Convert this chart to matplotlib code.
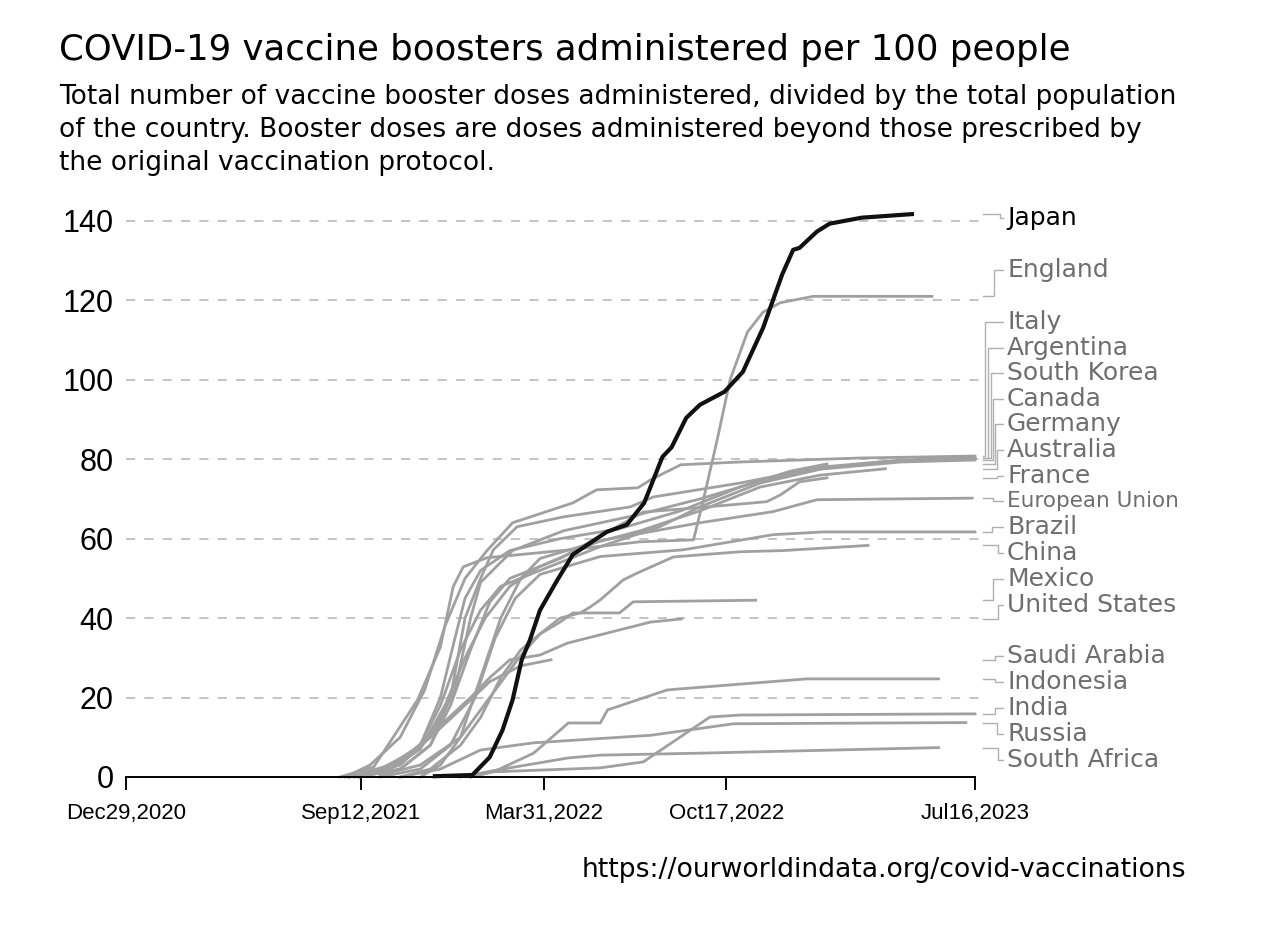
import numpy as np
import matplotlib
matplotlib.use('Agg')
import matplotlib.pyplot as plt
from matplotlib.transforms import blended_transform_factory


# ----------------------------------------------------------------
# Data
# ----------------------------------------------------------------
START = '2020-12-29'
END = '2023-07-16'

tick_dates = ['2020-12-29', '2021-09-12', '2022-03-31', '2022-10-17', '2023-07-16']
tick_labels = ['Dec29,2020', 'Sep12,2021', 'Mar31,2022', 'Oct17,2022', 'Jul16,2023']
y_ticks = [0, 20, 40, 60, 80, 100, 120, 140]

japan_dates = ['2021-12-02', '2022-01-12', '2022-01-31', '2022-02-14', '2022-02-25', '2022-03-07',
               '2022-03-16', '2022-03-27', '2022-04-15', '2022-05-02', '2022-06-08', '2022-06-30',
               '2022-07-19', '2022-08-08', '2022-08-18', '2022-09-03', '2022-09-18', '2022-10-15',
               '2022-11-04', '2022-11-26', '2022-12-17', '2022-12-29', '2023-01-05', '2023-01-24',
               '2023-02-07', '2023-03-14', '2023-05-08']
japan_vals = [0.2, 0.5, 5, 11.8, 19.4, 29.5, 34.5, 42, 49.6, 56, 61.7, 63.5, 69, 80.6, 83, 90.4,
              93.7, 97, 102, 113, 126.5, 132.7, 133.2, 137.3, 139.3, 140.8, 141.7]

england_dates = ['2021-08-20', '2021-09-26', '2021-11-13', '2021-12-08', '2021-12-22', '2022-01-02',
                 '2022-01-28', '2022-04-29', '2022-07-14', '2022-09-11', '2022-09-22', '2022-10-07',
                 '2022-10-21', '2022-11-09', '2022-11-26', '2022-12-15', '2023-01-20', '2023-05-30']
england_vals = [0, 2.5, 19.4, 32.7, 47.9, 52.9, 55.2, 57.2, 59.2, 59.7, 70, 85, 100, 112, 117,
                119.4, 121, 121]

italy_dates = ['2021-08-26', '2021-09-22', '2021-10-25', '2021-11-21', '2021-12-13', '2022-01-04',
               '2022-01-28', '2022-02-25', '2022-05-02', '2022-05-28', '2022-07-12', '2022-07-26',
               '2022-08-28', '2022-11-01', '2023-03-12', '2023-07-16']
italy_vals = [0, 3, 10, 22, 38, 50, 57, 64, 69, 72.3, 72.8, 74.8, 78.6, 79.3, 80.3, 80.8]

argentina_dates = ['2021-09-10', '2021-10-25', '2021-11-27', '2021-12-24', '2022-01-10', '2022-01-21',
                   '2022-02-25', '2022-04-22', '2022-07-12', '2022-09-18', '2022-11-23', '2023-02-07',
                   '2023-04-26', '2023-07-16']
argentina_vals = [0, 3, 10, 22, 40, 49, 57, 62, 66, 70, 74.5, 78, 79.6, 80.4]

korea_dates = ['2021-09-10', '2021-10-25', '2021-11-27', '2021-12-19', '2022-01-04', '2022-01-21',
               '2022-02-04', '2022-03-02', '2022-04-22', '2022-07-04', '2022-07-29', '2022-11-01',
               '2023-01-28', '2023-04-26', '2023-07-16']
korea_vals = [0, 2, 8, 20, 40, 50, 57.2, 63, 65.5, 68, 70.5, 74, 78, 79.8, 80.2]

canada_dates = ['2021-08-30', '2021-10-14', '2021-11-16', '2021-12-08', '2021-12-30', '2022-01-21',
                '2022-02-12', '2022-03-27', '2022-06-01', '2022-08-05', '2022-09-18', '2022-11-23',
                '2023-01-28', '2023-04-26', '2023-07-16']
canada_vals = [0, 3, 8, 18, 32, 42, 48, 52, 58, 63, 68, 74, 77.5, 79.3, 79.8]

germany_dates = ['2021-09-05', '2021-10-14', '2021-11-16', '2021-12-08', '2021-12-24', '2022-01-04',
                 '2022-01-21', '2022-02-22', '2022-04-18', '2022-06-22', '2022-08-28', '2022-11-01',
                 '2022-12-26', '2023-02-04']
germany_vals = [0, 2, 8, 20, 35, 45, 52, 57, 60, 62.5, 67, 73, 77, 78.8]

australia_dates = ['2021-11-16', '2021-12-08', '2021-12-30', '2022-01-21', '2022-02-12', '2022-03-06',
                   '2022-03-27', '2022-05-10', '2022-07-15', '2022-09-18', '2022-11-23', '2023-01-28',
                   '2023-04-09']
australia_vals = [0, 3, 10, 25, 40, 50, 55, 58, 62, 67, 73, 76, 77.6]

france_dates = ['2021-09-10', '2021-10-25', '2021-11-27', '2021-12-19', '2022-01-10', '2022-01-31',
                '2022-02-22', '2022-04-18', '2022-07-18', '2022-09-11', '2022-11-30', '2022-12-15',
                '2023-01-05', '2023-02-04']
france_vals = [0, 2, 8, 18, 32, 44, 50, 55, 66.7, 67.7, 69.3, 71, 74.3, 75.3]

eu_dates = ['2021-08-30', '2021-10-14', '2021-11-16', '2021-12-13', '2022-01-04', '2022-01-26',
            '2022-02-22', '2022-03-27', '2022-06-01', '2022-09-18', '2022-12-07', '2023-01-24',
            '2023-07-13']
eu_vals = [0, 2, 7, 18, 30, 40, 48, 53, 59.5, 64, 66.8, 69.8, 70.2]

brazil_dates = ['2021-10-03', '2021-11-16', '2021-12-19', '2022-01-15', '2022-02-06', '2022-02-28',
                '2022-03-27', '2022-06-01', '2022-08-31', '2022-12-07', '2023-01-31', '2023-07-16']
brazil_vals = [0, 2, 8, 20, 35, 45, 51, 55.5, 57.2, 61, 61.7, 61.7]

china_dates = ['2021-10-03', '2021-11-16', '2021-12-30', '2022-01-31', '2022-03-04', '2022-03-27',
               '2022-04-18', '2022-05-10', '2022-05-21', '2022-06-01', '2022-06-26', '2022-07-12',
               '2022-08-20', '2022-11-01', '2022-12-18', '2023-03-21']
china_vals = [0.5, 3, 10, 20, 30, 36, 40, 41.3, 42.8, 44.6, 49.6, 51.4, 55.4, 56.7, 57, 58.3]

mexico_dates = ['2021-10-25', '2021-11-27', '2021-12-30', '2022-01-21', '2022-02-12', '2022-03-06',
                '2022-03-27', '2022-04-18', '2022-05-02', '2022-06-22', '2022-07-07', '2022-11-18']
mexico_vals = [0, 2, 8, 15, 25, 32, 36, 39, 41.3, 41.3, 44.1, 44.5]

us_dates = ['2021-08-30', '2021-10-03', '2021-11-05', '2021-12-08', '2022-01-10', '2022-01-31',
            '2022-02-22', '2022-03-27', '2022-04-26', '2022-07-26', '2022-08-29']
us_vals = [0, 2, 6, 13, 20, 25, 29.5, 30.7, 33.7, 39, 39.8]

saudi_dates = ['2021-09-10', '2021-10-25', '2021-11-27', '2021-12-30', '2022-01-31', '2022-03-06',
               '2022-04-08']
saudi_vals = [0, 4, 10, 17, 24, 28, 29.5]

indonesia_dates = ['2021-12-30', '2022-02-09', '2022-03-20', '2022-04-27', '2022-06-01', '2022-06-09',
                   '2022-08-13', '2022-08-28', '2023-01-13', '2023-06-06']
indonesia_vals = [0, 1.8, 6, 13.6, 13.6, 16.9, 21.9, 22.2, 24.7, 24.7]

india_dates = ['2022-01-10', '2022-02-04', '2022-06-01', '2022-07-18', '2022-09-29', '2022-11-01',
               '2023-07-16']
india_vals = [0, 1.3, 2.3, 3.8, 15.1, 15.6, 15.9]

russia_dates = ['2021-10-25', '2021-12-08', '2022-01-21', '2022-03-20', '2022-07-26', '2022-10-25',
                '2023-07-06']
russia_vals = [0, 2, 6.8, 8.6, 10.5, 13.4, 13.7]

safrica_dates = ['2022-01-10', '2022-02-09', '2022-04-27', '2022-06-01', '2022-09-18', '2023-06-06']
safrica_vals = [0, 1.8, 4.8, 5.5, 6, 7.4]

countries = ['Japan', 'England', 'Italy', 'Argentina', 'South Korea', 'Canada', 'Germany',
             'Australia', 'France', 'European Union', 'Brazil', 'China', 'Mexico',
             'United States', 'Saudi Arabia', 'Indonesia', 'India', 'Russia', 'South Africa']
series_dates = [japan_dates, england_dates, italy_dates, argentina_dates, korea_dates, canada_dates,
                germany_dates, australia_dates, france_dates, eu_dates, brazil_dates, china_dates,
                mexico_dates, us_dates, saudi_dates, indonesia_dates, india_dates, russia_dates,
                safrica_dates]
series_vals = [japan_vals, england_vals, italy_vals, argentina_vals, korea_vals, canada_vals,
               germany_vals, australia_vals, france_vals, eu_vals, brazil_vals, china_vals,
               mexico_vals, us_vals, saudi_vals, indonesia_vals, india_vals, russia_vals,
               safrica_vals]


# ----------------------------------------------------------------
# Layout of the right-hand labels (data units / pixels)
# ----------------------------------------------------------------
label_y = [140.8, 127.7, 114.6, 108.1, 101.8, 95.2, 88.9, 82.4, 75.8, 69.5, 63.0, 56.4,
           49.9, 43.3, 30.5, 23.9, 17.4, 10.8, 4.3]
elbow_px = [1000, 994, 985, 988, 991, 993, 995, 997, 997, 993, 992, 998, 993, 998, 995, 995,
            995, 997, 998]


def days(d):
  return (np.array(d, dtype='datetime64[D]') - np.datetime64(START)).astype(int)


FONT = 'Liberation Sans'
WIDE = 'DejaVu Sans'
GREY = '#a0a0a0'

fig = plt.figure(figsize=(12.8, 9.31), dpi=100)
ax = fig.add_axes([126 / 1280, 1 - 777 / 931, 849 / 1280, (777 - 201) / 931])

x_end = days(END)
ax.set_xlim(0, x_end)
ax.set_ylim(0, 145)

# Grid lines
for yv in y_ticks[1:]:
  ax.plot([0, x_end * 1.006], [yv, yv], color='#b4b4b4', lw=1.1, ls=(0, (6, 6)),
          clip_on=False, zorder=1)

# Lines (grey first, Japan on top)
for name, d, v in zip(countries, series_dates, series_vals):
  if name == 'Japan':
    continue
  ax.plot(days(d), v, color=GREY, lw=2.0, solid_joinstyle='round', clip_on=False, zorder=2)
ax.plot(days(japan_dates), japan_vals, color='#111111', lw=3.0, solid_joinstyle='round',
        clip_on=False, zorder=3)

# Labels with elbow connectors
trans = blended_transform_factory(ax.transAxes, ax.transData)
x0 = (983 - 126) / 849
x1 = (1003 - 126) / 849
xt = (1007 - 126) / 849
for i, name in enumerate(countries):
  yend = series_vals[i][-1]
  xe = (elbow_px[i] - 126) / 849
  ax.plot([x0, xe, xe, x1], [yend, yend, label_y[i], label_y[i]], color='#b0b0b0', lw=1.0,
          transform=trans, clip_on=False)
  # the long EU label is squeezed in the reference
  size = 15.5 if name == 'European Union' else 18
  ax.text(xt, label_y[i], name, transform=trans, va='center', ha='left', fontsize=size,
          family=WIDE, color='black' if name == 'Japan' else '#6e6e6e')

# Axes styling
for s in ['left', 'right', 'top']:
  ax.spines[s].set_visible(False)
ax.spines['bottom'].set_linewidth(1.4)
ax.set_xticks(days(tick_dates))
ax.set_xticklabels(tick_labels, fontsize=16, family=FONT)
ax.tick_params(axis='x', length=9, width=1.4, pad=10)
ax.set_yticks(y_ticks)
ax.set_yticklabels([str(t) for t in y_ticks], fontsize=22, family=FONT)
ax.tick_params(axis='y', length=0, pad=9)

# Titles and source
fig.text(59 / 1280, 1 - 50 / 931, 'COVID-19 vaccine boosters administered per 100 people',
         fontsize=25.6, family=WIDE, va='center', ha='left')
sub = ('Total number of vaccine booster doses administered, divided by the total population\n'
       'of the country. Booster doses are doses administered beyond those prescribed by\n'
       'the original vaccination protocol.')
fig.text(59 / 1280, 1 - 84 / 931, sub, fontsize=19, family=WIDE, va='top', ha='left',
         linespacing=1.36)
fig.text(1186 / 1280, 1 - 870 / 931, 'https://ourworldindata.org/covid-vaccinations',
         fontsize=19.2, family=WIDE, va='center', ha='right')

fig.savefig('out.png', dpi=100)
